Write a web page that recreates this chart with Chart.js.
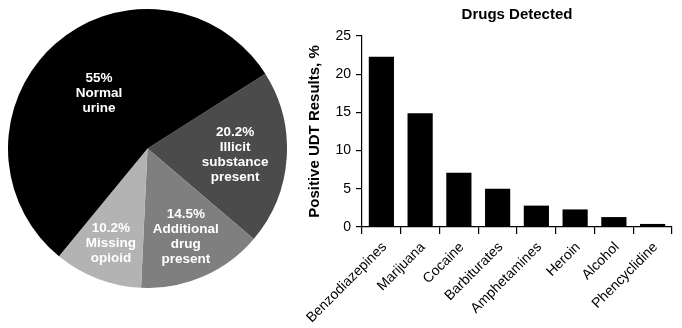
<!DOCTYPE html>
<html>
<head>
    <meta charset="utf-8">
    <script src="https://cdn.jsdelivr.net/npm/chart.js@4.4.7/dist/chart.umd.min.js"></script>
    <style>
        body { margin: 0; background: #fff; width: 682px; height: 328px; position: relative; overflow: hidden; }
        #pie { position: absolute; left: 8px; top: 9px; }
        #bar { position: absolute; left: 300px; top: 0px; }
    </style>
</head>
<body>
    <canvas id="pie" width="279" height="279"></canvas>
    <canvas id="bar" width="382" height="328"></canvas>
    <script>
        // pie: results of urine drug testing (clockwise from upper right)
        const pieNames = [["Illicit", "substance", "present"], ["Additional", "drug", "present"], ["Missing", "opioid"], ["Normal", "urine"]];
        const pieValues = [20.2, 14.5, 10.2, 55];
        const pieColors = ["#4b4b4b", "#7f7f7f", "#b3b3b3", "#000000"];
        const pieLabelRadius = [0.63, 0.69, 0.73, 0.525];

        // bar: drugs detected
        const drugs = ["Benzodiazepines", "Marijuana", "Cocaine", "Barbiturates", "Amphetamines", "Heroin", "Alcohol", "Phencyclidine"];
        const drugValues = [22.3, 14.9, 7.1, 5.0, 2.8, 2.3, 1.3, 0.4];
        const yTicks = [0, 5, 10, 15, 20, 25];

        const fam = "'Liberation Sans', Arial, Helvetica, sans-serif";
        Chart.defaults.font.family = fam;
        Chart.defaults.color = "#000";

        const sliceLabels = {
            id: "sliceLabels",
            afterDatasetsDraw(chart) {
                const ctx = chart.ctx;
                const arcs = chart.getDatasetMeta(0).data;
                ctx.save();
                ctx.fillStyle = "#fff";
                ctx.font = "bold 13.5px " + fam;
                ctx.textAlign = "center";
                ctx.textBaseline = "middle";
                arcs.forEach((arc, i) => {
                    const mid = (arc.startAngle + arc.endAngle) / 2;
                    const r = arc.outerRadius * pieLabelRadius[i];
                    const cx = arc.x + Math.cos(mid) * r;
                    const cy = arc.y + Math.sin(mid) * r;
                    const lines = [pieValues[i] + "%"].concat(pieNames[i]);
                    const lh = 15;
                    lines.forEach((t, j) => {
                        ctx.fillText(t, cx, cy + (j - (lines.length - 1) / 2) * lh);
                    });
                });
                ctx.restore();
            }
        };

        new Chart(document.getElementById("pie"), {
            type: "pie",
            data: {
                labels: pieNames.map(n => n.join(" ")),
                datasets: [{ data: pieValues, backgroundColor: pieColors, borderWidth: 0 }]
            },
            options: {
                responsive: false,
                animation: false,
                rotation: 57.6,
                layout: { padding: 0 },
                plugins: { legend: { display: false }, tooltip: { enabled: false } }
            },
            plugins: [sliceLabels]
        });

        new Chart(document.getElementById("bar"), {
            type: "bar",
            data: {
                labels: drugs,
                datasets: [{ data: drugValues, backgroundColor: "#000", barPercentage: 0.65, categoryPercentage: 1 }]
            },
            options: {
                responsive: false,
                animation: false,
                layout: { padding: { right: 10, left: 0, top: 0, bottom: 0 } },
                plugins: {
                    legend: { display: false },
                    tooltip: { enabled: false },
                    title: {
                        display: true, fullSize: false, text: "Drugs Detected", color: "#000",
                        font: { size: 15, weight: "bold" }, padding: { top: 6, bottom: 12 }
                    }
                },
                scales: {
                    x: {
                        grid: { offset: true, drawOnChartArea: false, tickLength: 7, color: "#000", lineWidth: 1.2 },
                        border: { color: "#000", width: 1.2 },
                        ticks: { color: "#000", font: { size: 14 }, maxRotation: 45, minRotation: 45, padding: 5, labelOffset: 3 },
                        afterFit: s => { s.height = 101; s.paddingLeft = 0; s.paddingRight = 0; }
                    },
                    y: {
                        min: 0, max: 25,
                        afterBuildTicks: s => { s.ticks = yTicks.map(v => ({ value: v })); },
                        grid: { drawOnChartArea: false, tickLength: 6, color: "#000", lineWidth: 1.2 },
                        border: { color: "#000", width: 1.2 },
                        ticks: { color: "#000", font: { size: 14 }, padding: 5 },
                        title: {
                            display: true, text: "Positive UDT Results, %", color: "#000",
                            font: { size: 15, weight: "bold" }, padding: { top: 6, bottom: 0 }
                        },
                        afterFit: s => { s.width = 62; }
                    }
                }
            }
        });
    </script>
</body>
</html>
